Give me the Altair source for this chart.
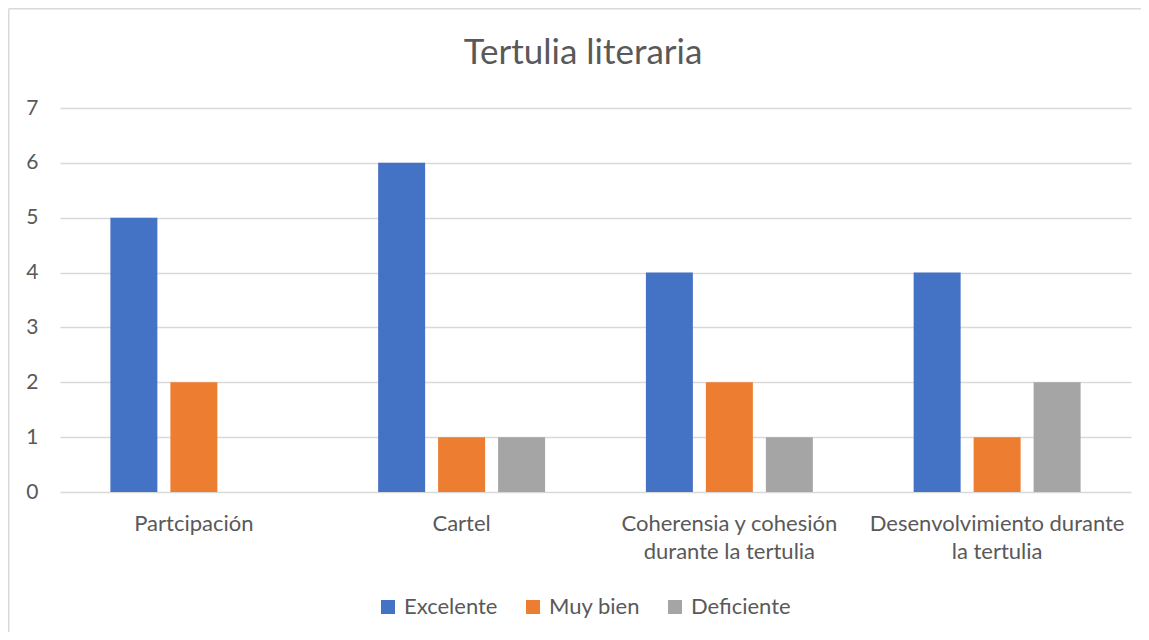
import altair as alt
import pandas as pd

categories = ["Partcipación", "Cartel", "Coherensia y cohesión\ndurante la tertulia", "Desenvolvimiento durante\nla tertulia"]
series = ["Excelente", "Muy bien", "Deficiente"]
excelente = [5, 6, 4, 4]
muy_bien = [2, 1, 2, 1]
deficiente = [0, 1, 1, 2]
colors = ["#4472C4", "#ED7D31", "#A5A5A5"]
title_text = "Tertulia literaria"

rows = []
for i, c in enumerate(categories):
    for s, vals in zip(series, [excelente, muy_bien, deficiente]):
        rows.append({"categoria": c, "serie": s, "valor": vals[i]})
df = pd.DataFrame(rows)

W, H = 1071, 384
FONT = "Lato"
TXT = "#595959"

bars = alt.Chart(df).mark_bar(strokeWidth=0).encode(
    x=alt.X("categoria:N", sort=categories, title=None,
            scale=alt.Scale(paddingInner=0, paddingOuter=0),
            axis=alt.Axis(labelAngle=0, labelExpr="split(datum.label, '\\n')",
                          labelFontSize=22, labelColor=TXT, labelFont=FONT, labelLimit=0,
                          labelPadding=21, labelLineHeight=28, ticks=False, domain=False,
                          grid=False, labelBaseline="top")),
    xOffset=alt.XOffset("serie:N", sort=series,
                        scale=alt.Scale(paddingInner=0.2167, paddingOuter=0.84)),
    y=alt.Y("valor:Q", title=None,
            scale=alt.Scale(domain=[0, 7]),
            axis=alt.Axis(values=[0, 1, 2, 3, 4, 5, 6, 7], format="d", ticks=False, domain=False,
                          labelFontSize=21, labelColor=TXT, labelFont=FONT, labelPadding=22,
                          gridColor="#D9D9D9", gridWidth=1.5)),
    color=alt.Color("serie:N", sort=series,
                    scale=alt.Scale(domain=series, range=colors),
                    legend=alt.Legend(title=None, orient="none", direction="horizontal",
                                      legendX=317, legendY=488, symbolType="square",
                                      symbolSize=196, symbolStrokeWidth=0, labelFontSize=22,
                                      labelColor=TXT, labelFont=FONT, labelOffset=5,
                                      columnPadding=24)),
)

frame_top = alt.Chart(pd.DataFrame({"a": [0]})).mark_rule(
    stroke="#D9D9D9", strokeWidth=1.5
).encode(
    x=alt.value(-51.25), x2=alt.value(W + 100), y=alt.value(-99.25),
)
frame_left = alt.Chart(pd.DataFrame({"a": [0]})).mark_rule(
    stroke="#D9D9D9", strokeWidth=1.5
).encode(
    x=alt.value(-51.25), y=alt.value(-99.25), y2=alt.value(H + 300),
)

title = alt.Chart(pd.DataFrame({"t": [title_text]})).mark_text(
    font=FONT, fontSize=35, color=TXT, align="center", baseline="middle"
).encode(
    text="t:N", x=alt.value(523), y=alt.value(-55),
)

chart = alt.layer(frame_top, frame_left, bars, title).properties(
    width=W, height=H,
    padding={"left": 52, "top": 100, "right": 10, "bottom": 140},
    autosize=alt.AutoSizeParams(type="none"),
).configure_view(stroke=None)

chart.save("out.html", embed_options={"renderer": "svg", "actions": False})
